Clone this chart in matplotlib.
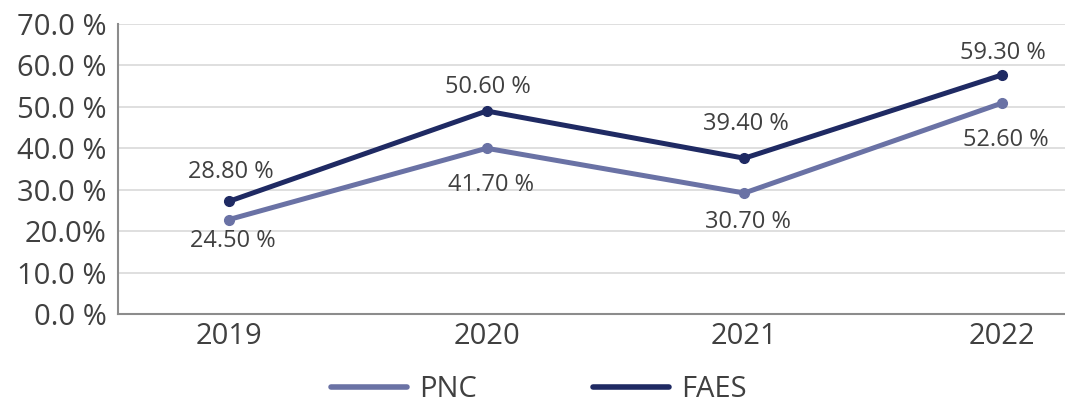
import matplotlib
matplotlib.use("Agg")
import matplotlib.pyplot as plt
from matplotlib.lines import Line2D
from matplotlib.ticker import FixedLocator, FixedFormatter

plt.rcParams["font.family"] = ["Open Sans", "DejaVu Sans"]

YEARS = ["2019", "2020", "2021", "2022"]
# plotted positions as drawn in the source chart
PNC = [22.8, 40.0, 29.2, 50.9]
FAES = [27.2, 49.0, 37.6, 57.7]
# data labels as printed
PNC_LABELS = ["24.50 %", "41.70 %", "30.70 %", "52.60 %"]
FAES_LABELS = ["28.80 %", "50.60 %", "39.40 %", "59.30 %"]
Y_TICKS = [0, 10, 20, 30, 40, 50, 60, 70]
Y_TICK_LABELS = ["0.0 %", "10.0 %", "20.0%", "30.0 %", "40.0 %", "50.0 %", "60.0 %", "70.0 %"]

PNC_C, FAES_C, TXT = "#6a72a5", "#1f2a63", "#404040"

# label offsets in pixels (positive = up)
FAES_DY = [29, 24, 34, 22]
PNC_DY = [-21, -37, -29, -37]

fig = plt.figure(figsize=(10.65, 4.04), dpi=100)
ax = fig.add_axes([118 / 1065, 90 / 404, 1 - 118 / 1065, 290 / 404])

x = list(range(len(YEARS)))
ax.plot(x, PNC, color=PNC_C, lw=3.6, marker="o", ms=7, solid_capstyle="round")
ax.plot(x, FAES, color=FAES_C, lw=3.6, marker="o", ms=7, solid_capstyle="round")

for i in x:
    ax.annotate(FAES_LABELS[i], (i, FAES[i]), xytext=(1, FAES_DY[i] * 0.72),
                textcoords="offset points", ha="center", va="center", fontsize=17, color=TXT)
    ax.annotate(PNC_LABELS[i], (i, PNC[i]), xytext=(3, PNC_DY[i] * 0.72),
                textcoords="offset points", ha="center", va="center", fontsize=17, color=TXT)

ax.set_xlim(-0.431, 3.245)
ax.set_ylim(0, 70)
ax.set_xticks(x)
ax.set_xticklabels(YEARS)
ax.yaxis.set_major_locator(FixedLocator(Y_TICKS))
ax.yaxis.set_major_formatter(FixedFormatter(Y_TICK_LABELS))
ax.tick_params(axis="both", length=0, labelsize=21, colors=TXT)
ax.tick_params(axis="y", pad=8)
ax.tick_params(axis="x", pad=6)
ax.grid(axis="y", color="#d9d9d9", lw=1.2)
ax.set_axisbelow(True)
for s in ["top", "right"]:
    ax.spines[s].set_visible(False)
for s in ["left", "bottom"]:
    ax.spines[s].set_color("#8c8c8c")
    ax.spines[s].set_linewidth(1.5)

handles = [Line2D([], [], color=PNC_C, lw=4, solid_capstyle="round"),
           Line2D([], [], color=FAES_C, lw=4, solid_capstyle="round")]
leg = fig.legend(handles, ["PNC", "FAES"], loc="center", bbox_to_anchor=(0.506, 0.035), ncol=2,
                 frameon=False, fontsize=21, handlelength=2.6, handletextpad=0.4, columnspacing=4.0)
for t in leg.get_texts():
    t.set_color(TXT)

fig.savefig("out.png", dpi=100)
